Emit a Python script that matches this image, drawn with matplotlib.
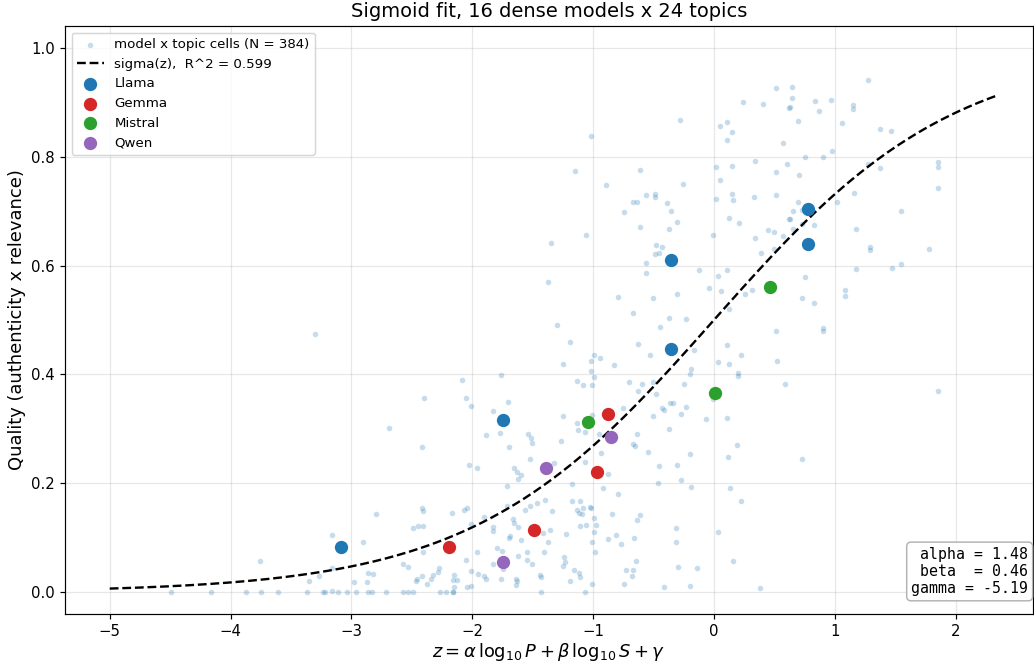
import numpy as np
import matplotlib
matplotlib.use("Agg")
import matplotlib.pyplot as plt

# model x topic cells (z, quality)
cells = [
    # left tail
    (-4.495, 0.0), (-4.164, 0.0), (-3.872, 0.0), (-3.750, 0.0), (-3.604, 0.0), (-3.367, 0.0),
    (-3.237, 0.0), (-3.218, 0.0), (-3.158, 0.003), (-3.108, 0.0), (-3.039, 0.0), (-2.962, 0.0),
    (-2.860, 0.0), (-3.30, 0.475), (-3.158, 0.105), (-2.90, 0.092), (-3.757, 0.057),
    (-3.163, 0.045), (-3.27, 0.030), (-3.35, 0.020), (-2.98, 0.018), (-2.87, 0.018), (-2.86, 0.036),
    # -2.8 .. -1.1
    (-1.191, 0.460), (-1.252, 0.420), (-1.762, 0.399), (-2.083, 0.389), (-1.136, 0.388),
    (-2.397, 0.356), (-2.055, 0.357), (-1.704, 0.349), (-2.011, 0.342), (-1.826, 0.333),
    (-1.252, 0.324), (-2.686, 0.301), (-1.768, 0.292), (-1.884, 0.289), (-1.536, 0.290),
    (-1.514, 0.284), (-1.503, 0.274), (-1.263, 0.278), (-1.136, 0.310), (-1.123, 0.298),
    (-2.416, 0.267), (-1.699, 0.267), (-1.525, 0.244), (-2.030, 0.234), (-1.958, 0.228),
    (-1.652, 0.228), (-1.633, 0.220), (-1.597, 0.216), (-1.624, 0.208), (-1.324, 0.238),
    (-1.710, 0.196), (-1.178, 0.199), (-2.799, 0.143), (-2.419, 0.154), (-2.405, 0.150),
    (-2.170, 0.145), (-2.069, 0.151), (-2.047, 0.154), (-1.713, 0.159), (-1.522, 0.159),
    (-1.467, 0.164), (-1.401, 0.169), (-1.566, 0.151), (-1.343, 0.149), (-1.172, 0.167),
    (-1.136, 0.151), (-1.114, 0.146), (-2.494, 0.118), (-2.452, 0.121), (-2.405, 0.122),
    (-2.011, 0.126), (-1.901, 0.138), (-1.826, 0.120), (-1.826, 0.112), (-1.666, 0.134),
    (-1.652, 0.127), (-1.622, 0.119), (-1.685, 0.104), (-1.699, 0.100), (-1.597, 0.096),
    (-1.418, 0.108), (-1.357, 0.114), (-1.374, 0.092), (-1.227, 0.107), (-2.405, 0.074),
    (-1.958, 0.073), (-1.795, 0.082), (-1.751, 0.076), (-1.544, 0.074), (-1.622, 0.067),
    (-1.409, 0.074), (-2.055, 0.060), (-1.544, 0.059), (-1.508, 0.051), (-1.826, 0.051),
    (-1.748, 0.043), (-1.238, 0.065), (-1.249, 0.049), (-1.230, 0.056), (-1.156, 0.040),
    (-1.117, 0.036), (-2.824, 0.034), (-2.576, 0.051), (-2.535, 0.046), (-2.273, 0.045),
    (-2.281, 0.037), (-2.328, 0.032), (-2.344, 0.025), (-2.377, 0.016), (-2.419, 0.029),
    (-2.460, 0.024), (-2.468, 0.020), (-2.149, 0.031), (-2.124, 0.023), (-2.157, 0.022),
    (-2.149, 0.009), (-2.160, 0.0), (-2.011, 0.039), (-1.953, 0.034), (-1.901, 0.030),
    (-1.884, 0.025), (-2.041, 0.010), (-2.011, 0.011), (-1.765, 0.024), (-1.641, 0.025),
    (-1.630, 0.021), (-1.641, 0.014), (-1.440, 0.031), (-1.429, 0.028), (-1.431, 0.0),
    (-1.191, 0.021), (-2.827, 0.0), (-2.714, 0.0), (-2.571, 0.0), (-2.535, 0.0),
    (-2.488, 0.0), (-2.267, 0.0), (-2.217, 0.0), (-2.157, 0.0),
    (-1.153, 0.774), (-1.349, 0.642), (-1.376, 0.570), (-1.302, 0.491),
    # -1.1 .. 0.6, lower half
    (0.513, 0.479), (-0.632, 0.456), (0.110, 0.455), (-0.165, 0.445), (-0.990, 0.436),
    (-0.943, 0.431), (-1.018, 0.425), (-0.530, 0.436), (-0.830, 0.417), (0.036, 0.422),
    (0.121, 0.419), (0.223, 0.436), (0.524, 0.424), (-1.018, 0.406), (-0.995, 0.396),
    (-1.086, 0.381), (-1.009, 0.380), (-0.187, 0.410), (-0.201, 0.401), (0.201, 0.403),
    (0.199, 0.397), (0.590, 0.382), (-0.701, 0.386), (-0.593, 0.382), (-0.502, 0.387),
    (-0.632, 0.369), (-0.483, 0.365), (-0.251, 0.382), (-0.006, 0.354), (-0.364, 0.347),
    (-0.342, 0.347), (-0.433, 0.339), (-0.411, 0.334), (-0.229, 0.341), (-0.276, 0.327),
    (-0.753, 0.339), (-0.507, 0.324), (-0.069, 0.319), (0.108, 0.320), (-1.065, 0.295),
    (-0.954, 0.291), (-1.012, 0.325), (-0.635, 0.290), (-0.375, 0.300), (-0.673, 0.272),
    (-0.656, 0.268), (0.188, 0.270), (-0.935, 0.255), (-0.544, 0.257), (-0.201, 0.254),
    (0.113, 0.248), (-1.065, 0.239), (-0.875, 0.218), (-0.453, 0.232), (-0.309, 0.233),
    (-0.466, 0.200), (-0.271, 0.207), (-0.190, 0.194), (0.132, 0.192), (0.221, 0.167),
    (-0.916, 0.191), (-0.797, 0.181), (-1.109, 0.167), (-1.095, 0.144), (-1.029, 0.157),
    (-1.015, 0.154), (-1.087, 0.155), (-1.059, 0.124), (-1.109, 0.121), (-0.990, 0.136),
    (-0.976, 0.123), (-0.990, 0.111), (-0.841, 0.143), (-0.610, 0.141), (-0.635, 0.132),
    (-0.811, 0.106), (-0.877, 0.097), (-0.772, 0.088), (-0.659, 0.099), (-0.314, 0.118),
    (-0.314, 0.092), (0.033, 0.111), (-1.009, 0.092), (-0.987, 0.074), (-0.648, 0.058),
    (-0.731, 0.041), (-0.670, 0.041), (-0.676, 0.029), (-0.747, 0.015), (-0.300, 0.046),
    (-0.141, 0.044), (0.160, 0.058), (-1.009, 0.016), (-1.067, 0.0), (-0.411, 0.009),
    (-0.199, 0.011), (0.383, 0.008), (-1.109, 0.028),
    (0.902, 0.480), (1.853, 0.369), (0.726, 0.244),
    # upper half
    (0.516, 0.926), (0.243, 0.901), (0.408, 0.897), (0.618, 0.890), (-0.281, 0.867),
    (0.050, 0.857), (0.108, 0.863), (0.146, 0.845), (0.108, 0.831), (-1.020, 0.838),
    (0.568, 0.826), (0.336, 0.792), (0.516, 0.771), (0.607, 0.787), (0.019, 0.781),
    (0.146, 0.782), (0.050, 0.757), (-0.615, 0.775), (-0.896, 0.748), (-0.259, 0.749),
    (-0.560, 0.729), (-0.486, 0.731), (-0.486, 0.726), (-0.673, 0.716), (-0.640, 0.716),
    (-0.386, 0.715), (-0.358, 0.700), (-0.747, 0.699), (0.019, 0.723), (0.160, 0.721),
    (0.146, 0.732), (0.331, 0.726), (0.510, 0.730), (0.127, 0.688), (0.207, 0.679),
    (0.618, 0.685), (-0.615, 0.671), (-0.370, 0.667), (-0.306, 0.680), (-1.059, 0.656),
    (-0.006, 0.656), (0.336, 0.651), (0.447, 0.665), (0.499, 0.662), (0.568, 0.655),
    (0.499, 0.630), (0.389, 0.623), (-0.477, 0.637), (-0.430, 0.634), (-0.488, 0.621),
    (-0.458, 0.623), (-0.560, 0.604), (-0.565, 0.586), (-0.124, 0.591), (0.110, 0.591),
    (0.036, 0.580), (-0.039, 0.559), (0.058, 0.554), (0.317, 0.556), (0.259, 0.547),
    (-0.792, 0.542), (-0.502, 0.540), (-0.306, 0.547), (-0.673, 0.512), (-0.372, 0.504),
    (-0.229, 0.501), (-0.447, 0.487), (0.121, 0.520),
    (1.277, 0.941), (0.643, 0.928), (0.643, 0.907), (0.629, 0.891), (0.838, 0.903),
    (0.965, 0.904), (0.869, 0.884), (1.150, 0.895), (1.150, 0.887), (0.698, 0.866),
    (1.062, 0.862), (1.373, 0.851), (1.467, 0.847), (0.756, 0.800), (0.902, 0.799),
    (0.979, 0.811), (1.277, 0.787), (1.373, 0.779), (1.856, 0.791), (1.856, 0.781),
    (1.856, 0.743), (0.701, 0.766), (1.156, 0.734), (1.015, 0.717), (0.698, 0.716),
    (0.656, 0.701), (0.726, 0.702), (1.545, 0.701), (0.629, 0.686), (0.651, 0.667),
    (0.726, 0.676), (0.825, 0.674), (1.178, 0.667), (1.291, 0.634), (1.291, 0.629),
    (1.782, 0.631), (1.178, 0.594), (1.470, 0.596), (1.545, 0.602), (0.756, 0.579),
    (1.087, 0.555), (1.087, 0.544), (0.726, 0.540), (0.825, 0.531), (0.902, 0.485),
]

families = ["Llama", "Gemma", "Mistral", "Qwen"]
family_colors = ["#1f77b4", "#d62728", "#2ca02c", "#9467bd"]
family_z = {
    "Llama": [-3.086, -1.748, -0.353, -0.353, 0.778, 0.778],
    "Gemma": [-2.195, -1.489, -0.966, -0.877],
    "Mistral": [-1.040, 0.008, 0.466],
    "Qwen": [-1.748, -1.388, -0.855],
}
family_q = {
    "Llama": [0.083, 0.317, 0.447, 0.610, 0.703, 0.639],
    "Gemma": [0.083, 0.114, 0.221, 0.327],
    "Mistral": [0.312, 0.366, 0.561],
    "Qwen": [0.056, 0.229, 0.285],
}

alpha_fit, beta_fit, gamma_fit = 1.48, 0.46, -5.19
r2 = 0.599
n_cells = 384

cells = np.array(cells)

dpi = 107
fig = plt.figure(figsize=(1034/dpi, 663/dpi), dpi=dpi)
ax = fig.add_subplot(111)
fig.subplots_adjust(left=65/1034, right=1033/1034, top=1-26/663, bottom=1-614/663)

ax.scatter(cells[:, 0], cells[:, 1], s=14, color="#1f77b4", alpha=0.25, linewidths=0,
           label="model x topic cells (N = %d)" % n_cells, zorder=2)

zz = np.linspace(-5, 2.35, 300)
ax.plot(zz, 1 / (1 + np.exp(-zz)), "k--", lw=1.6, label="sigma(z),  R^2 = %.3f" % r2, zorder=3)

for fam, col in zip(families, family_colors):
    ax.scatter(family_z[fam], family_q[fam], s=80, color=col, linewidths=0, label=fam, zorder=4)

ax.set_xlim(-5.37, 2.64)
ax.set_ylim(-0.04, 1.04)
ax.grid(True, alpha=0.3)
ax.set_title("Sigmoid fit, 16 dense models x 24 topics", fontsize=13)
ax.set_xlabel(r"$z = \alpha\,\log_{10} P + \beta\,\log_{10} S + \gamma$", fontsize=12, labelpad=1)
ax.set_ylabel("Quality (authenticity x relevance)", fontsize=12, labelpad=3)
ax.legend(loc="upper left", fontsize=9)

txt = "alpha = %.2f\n beta  = %.2f\ngamma = %.2f" % (alpha_fit, beta_fit, gamma_fit)
ax.text(0.995, 0.03, txt, transform=ax.transAxes, ha="right", va="bottom",
        family="monospace", fontsize=10,
        bbox=dict(boxstyle="round", facecolor="white", edgecolor="0.7"))

plt.savefig("out.png", dpi=dpi)
